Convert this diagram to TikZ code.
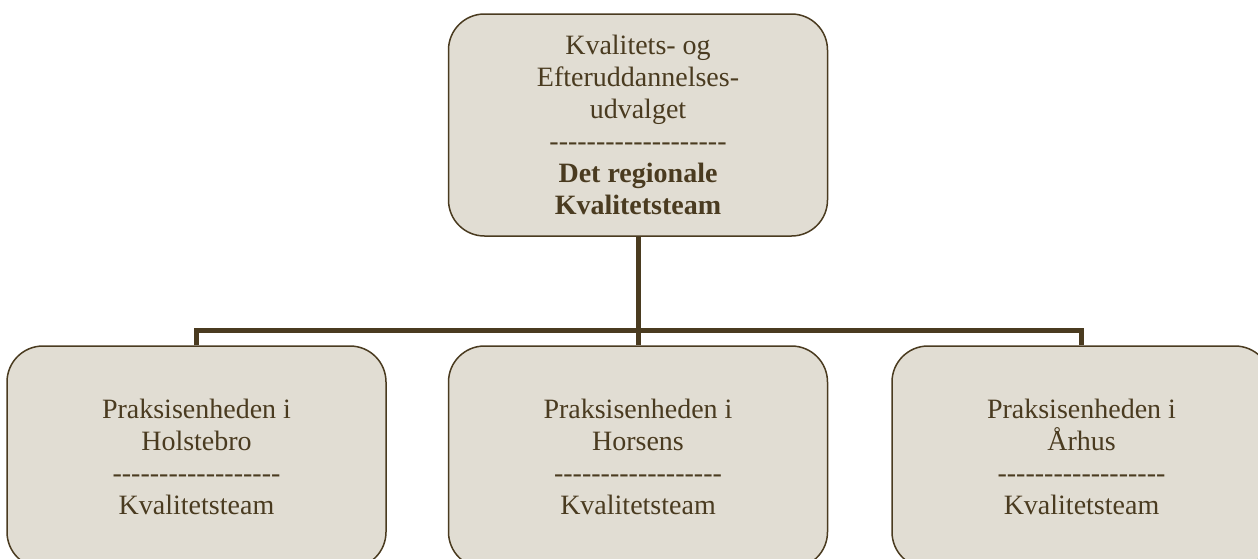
\documentclass[tikz,border=0pt]{standalone}
\usepackage{fontspec}
\setmainfont{Liberation Serif}[Ligatures=TeXOff]
\usepackage{tikz}
\usetikzlibrary{positioning}
\definecolor{unitfill}{HTML}{E1DDD3}
\definecolor{unitbrown}{HTML}{4A3B20}

\begin{document}
\begin{tikzpicture}[x=1pt,y=1pt,
    unitbox/.style={draw=unitbrown,fill=unitfill,line width=1.5pt,rounded corners=36pt,
      minimum width=379pt,minimum height=222pt,inner sep=0pt,align=center,
      text=unitbrown,font=\fontsize{28}{32}\selectfont},
    link/.style={draw=unitbrown,line width=5pt}]
  \useasboundingbox (0,0) rectangle (1258,-558);
  % Regional team at the top
  \node[unitbox] (region) at (638,-125) {Kvalitets- og\\Efteruddannelses-\\udvalget\\-------------------\\\textbf{Det regionale}\\\textbf{Kvalitetsteam}};
  % Local units (cut by the lower edge)
  \node[unitbox] (horsens) at (638,-457) {Praksisenheden i\\Horsens\\------------------\\Kvalitetsteam};
  \node[unitbox,left=61pt of horsens] (holstebro) {Praksisenheden i\\Holstebro\\------------------\\Kvalitetsteam};
  \node[unitbox,right=63pt of horsens] (aarhus) {Praksisenheden i\\Århus\\------------------\\Kvalitetsteam};
  % Connectors
  \coordinate (bus) at (638,-330);
  \draw[link] (region.south) -- (bus) -- (horsens.north);
  \draw[link] (holstebro.north) |- (bus) -| (aarhus.north);
\end{tikzpicture}
\end{document}
